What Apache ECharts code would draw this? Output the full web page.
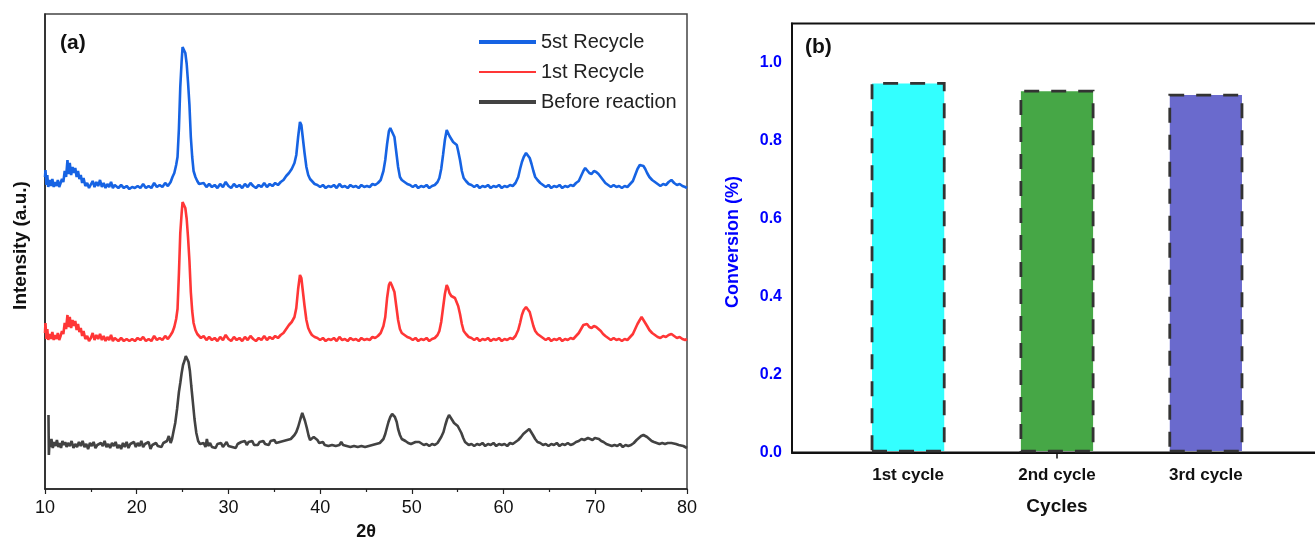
<!DOCTYPE html>
<html>
<head>
<meta charset="utf-8">
<script src="https://cdn.jsdelivr.net/npm/echarts@6/dist/echarts.min.js"></script>
<style>
html,body{margin:0;padding:0;background:#fff;}
#chart{width:1315px;height:543px;}
</style>
</head>
<body>
<div id="chart"></div>
<script>
// ---------- Panel (a): XRD patterns, [2θ, intensity (a.u., offset as plotted)] ----------
const seriesNames = ['5st Recycle', '1st Recycle', 'Before reaction'];
const xTicks = [10, 20, 30, 40, 50, 60, 70, 80];

const recycle5 = [[10.0,312],[10.05,319],[10.15,304],[10.25,314],[10.35,302],[10.5,309],[10.65,303],[10.8,310],[10.95,302],[11.1,307],[11.25,303],[11.4,309],[11.55,302],[11.7,306],[11.85,310],[12.0,307],[12.15,318],[12.3,312],[12.45,329],[12.55,315],[12.7,326],[12.85,314],[13.0,322],[13.15,316],[13.3,321],[13.45,312],[13.6,318],[13.75,310],[13.9,314],[14.05,306],[14.2,311],[14.4,303],[14.6,306],[14.8,301],[15.0,303],[15.2,308],[15.4,302],[15.6,307],[15.8,303],[16.0,309],[16.2,302],[16.4,306],[16.6,301],[16.8,305],[17.0,302],[17.2,307],[17.4,301],[17.6,304],[17.8,302],[18.0,301],[18.3,304],[18.6,301],[18.9,303],[19.2,300],[19.5,302],[19.8,301],[20.1,303],[20.4,301],[20.7,305],[21.0,301],[21.3,303],[21.6,301],[21.9,306],[22.2,302],[22.5,304],[22.8,302],[23.1,306],[23.4,303],[23.7,307],[23.9,312],[24.1,316],[24.3,324],[24.45,332],[24.6,360],[24.75,402],[24.9,428],[25.0,442],[25.15,440],[25.3,436],[25.45,425],[25.6,406],[25.75,384],[25.9,352],[26.05,332],[26.2,318],[26.4,312],[26.6,308],[26.8,305],[27.0,303],[27.3,306],[27.6,302],[27.9,305],[28.2,302],[28.5,304],[28.8,301],[29.1,305],[29.4,302],[29.7,307],[30.0,303],[30.3,301],[30.6,305],[30.9,302],[31.2,304],[31.5,301],[31.8,305],[32.1,302],[32.4,306],[32.7,303],[33.0,301],[33.3,304],[33.6,302],[33.9,306],[34.2,302],[34.5,305],[34.8,303],[35.1,306],[35.4,304],[35.7,307],[36.0,309],[36.3,313],[36.6,316],[36.9,320],[37.2,326],[37.4,334],[37.6,352],[37.8,367],[37.95,364],[38.1,352],[38.3,336],[38.5,322],[38.7,314],[38.9,310],[39.1,308],[39.4,305],[39.7,304],[40.0,302],[40.3,304],[40.6,301],[40.9,303],[41.2,302],[41.5,304],[41.8,301],[42.1,305],[42.4,302],[42.7,303],[43.0,301],[43.3,304],[43.6,302],[43.9,303],[44.2,301],[44.5,304],[44.8,302],[45.1,303],[45.4,302],[45.7,305],[46.0,304],[46.3,306],[46.6,309],[46.9,318],[47.1,329],[47.3,345],[47.5,358],[47.65,361],[47.8,358],[47.95,360],[48.1,352],[48.3,337],[48.5,322],[48.7,312],[48.9,309],[49.2,307],[49.5,305],[49.8,304],[50.1,302],[50.4,304],[50.7,301],[51.0,303],[51.3,302],[51.6,304],[51.9,301],[52.2,303],[52.5,304],[52.8,307],[53.0,311],[53.2,320],[53.4,334],[53.6,349],[53.8,359],[53.95,356],[54.1,353],[54.3,350],[54.5,347],[54.7,346],[54.9,344],[55.05,338],[55.25,329],[55.45,318],[55.65,311],[55.9,308],[56.2,305],[56.5,304],[56.8,302],[57.1,304],[57.4,301],[57.7,303],[58.0,302],[58.3,304],[58.6,301],[58.9,303],[59.2,302],[59.5,304],[59.8,301],[60.1,303],[60.4,302],[60.7,304],[61.0,303],[61.3,306],[61.6,312],[61.8,320],[62.0,327],[62.2,332],[62.45,336],[62.65,334],[62.85,331],[63.05,325],[63.25,318],[63.45,312],[63.7,309],[64.0,306],[64.3,304],[64.6,302],[64.9,304],[65.2,301],[65.5,303],[65.8,302],[66.1,304],[66.4,301],[66.7,303],[67.0,302],[67.3,304],[67.6,303],[67.9,306],[68.2,308],[68.45,313],[68.7,318],[68.9,321],[69.1,319],[69.35,316],[69.6,315],[69.85,318],[70.1,317],[70.35,315],[70.6,312],[70.85,309],[71.1,306],[71.4,304],[71.7,302],[72.0,304],[72.3,302],[72.6,303],[72.9,301],[73.2,303],[73.5,302],[73.8,305],[74.1,308],[74.35,314],[74.6,320],[74.85,324],[75.05,326],[75.25,323],[75.45,320],[75.65,316],[75.9,312],[76.2,309],[76.5,307],[76.8,305],[77.1,303],[77.4,305],[77.7,304],[78.0,307],[78.3,309],[78.6,306],[78.9,304],[79.2,305],[79.5,303],[79.8,302],[80.0,301]];

const recycle1 = [[10.0,156],[10.05,166],[10.15,150],[10.25,160],[10.35,149],[10.5,155],[10.65,150],[10.8,157],[10.95,149],[11.1,154],[11.25,150],[11.4,156],[11.55,149],[11.7,153],[11.85,158],[12.0,155],[12.15,166],[12.3,160],[12.45,174],[12.55,162],[12.7,172],[12.85,161],[13.0,169],[13.15,163],[13.3,168],[13.45,159],[13.6,165],[13.75,157],[13.9,161],[14.05,153],[14.2,158],[14.4,150],[14.6,153],[14.8,148],[15.0,151],[15.2,156],[15.4,149],[15.6,154],[15.8,150],[16.0,155],[16.2,149],[16.4,153],[16.6,148],[16.8,152],[17.0,149],[17.2,154],[17.4,148],[17.6,151],[17.8,149],[18.0,148],[18.3,151],[18.6,148],[18.9,150],[19.2,148],[19.5,150],[19.8,148],[20.1,151],[20.4,149],[20.7,152],[21.0,148],[21.3,150],[21.6,148],[21.9,153],[22.2,149],[22.5,151],[22.8,149],[23.1,153],[23.4,150],[23.7,154],[23.9,157],[24.1,162],[24.3,170],[24.45,180],[24.6,215],[24.75,256],[24.9,276],[25.0,287],[25.15,285],[25.3,281],[25.45,270],[25.6,251],[25.75,228],[25.9,197],[26.05,178],[26.2,166],[26.4,159],[26.6,155],[26.8,153],[27.0,151],[27.3,153],[27.6,149],[27.9,152],[28.2,149],[28.5,151],[28.8,148],[29.1,152],[29.4,149],[29.7,154],[30.0,150],[30.3,148],[30.6,152],[30.9,149],[31.2,151],[31.5,148],[31.8,152],[32.1,149],[32.4,153],[32.7,150],[33.0,148],[33.3,151],[33.6,149],[33.9,153],[34.2,149],[34.5,152],[34.8,150],[35.1,153],[35.4,151],[35.7,154],[36.0,156],[36.3,160],[36.6,164],[36.9,167],[37.2,172],[37.4,181],[37.6,200],[37.8,214],[37.95,211],[38.1,199],[38.3,183],[38.5,169],[38.7,161],[38.9,157],[39.1,154],[39.4,152],[39.7,151],[40.0,149],[40.3,151],[40.6,148],[40.9,150],[41.2,149],[41.5,151],[41.8,148],[42.1,152],[42.4,149],[42.7,150],[43.0,148],[43.3,151],[43.6,149],[43.9,150],[44.2,148],[44.5,151],[44.8,149],[45.1,150],[45.4,149],[45.7,152],[46.0,151],[46.3,153],[46.6,156],[46.9,163],[47.1,172],[47.3,191],[47.5,204],[47.65,207],[47.8,204],[47.95,205],[48.1,197],[48.3,183],[48.5,169],[48.7,160],[48.9,156],[49.2,154],[49.5,152],[49.8,151],[50.1,149],[50.4,151],[50.7,148],[51.0,150],[51.3,149],[51.6,151],[51.9,148],[52.2,150],[52.5,151],[52.8,154],[53.0,158],[53.2,167],[53.4,181],[53.6,195],[53.8,204],[53.95,201],[54.1,196],[54.3,193],[54.5,192],[54.7,191],[54.9,189],[55.05,183],[55.25,175],[55.45,165],[55.65,158],[55.9,155],[56.2,152],[56.5,151],[56.8,149],[57.1,151],[57.4,148],[57.7,150],[58.0,149],[58.3,151],[58.6,148],[58.9,150],[59.2,149],[59.5,151],[59.8,148],[60.1,150],[60.4,149],[60.7,151],[61.0,150],[61.3,153],[61.6,159],[61.8,166],[62.0,174],[62.2,179],[62.45,182],[62.65,180],[62.85,177],[63.05,170],[63.25,163],[63.45,158],[63.7,155],[64.0,153],[64.3,151],[64.6,149],[64.9,151],[65.2,148],[65.5,150],[65.8,149],[66.1,151],[66.4,148],[66.7,150],[67.0,149],[67.3,151],[67.6,150],[67.9,153],[68.2,156],[68.45,160],[68.7,164],[68.9,166],[69.1,165],[69.35,162],[69.6,161],[69.85,163],[70.1,162],[70.35,160],[70.6,158],[70.85,155],[71.1,153],[71.4,151],[71.7,149],[72.0,151],[72.3,149],[72.6,150],[72.9,148],[73.2,150],[73.5,149],[73.8,152],[74.1,155],[74.35,160],[74.6,165],[74.85,169],[75.05,172],[75.25,169],[75.45,167],[75.65,163],[75.9,159],[76.2,156],[76.5,154],[76.8,152],[77.1,151],[77.4,153],[77.7,152],[78.0,154],[78.3,155],[78.6,153],[78.9,151],[79.2,152],[79.5,150],[79.8,149],[80.0,150]];

const beforeReaction = [[10.38,74],[10.42,34],[10.5,48],[10.6,42],[10.7,50],[10.85,41],[11.0,47],[11.15,43],[11.3,49],[11.45,42],[11.6,46],[11.75,41],[11.9,48],[12.05,44],[12.2,47],[12.35,42],[12.5,46],[12.7,43],[12.9,48],[13.1,41],[13.3,45],[13.5,42],[13.7,47],[13.9,43],[14.1,48],[14.3,42],[14.5,45],[14.7,40],[14.9,46],[15.1,43],[15.3,47],[15.5,41],[15.7,44],[15.9,42],[16.1,46],[16.3,43],[16.5,48],[16.7,42],[16.9,45],[17.1,41],[17.3,46],[17.5,43],[17.7,47],[17.9,41],[18.1,44],[18.3,40],[18.5,46],[18.7,42],[18.9,47],[19.1,41],[19.3,45],[19.5,43],[19.7,47],[19.9,42],[20.1,46],[20.3,43],[20.5,48],[20.7,42],[20.9,45],[21.1,43],[21.3,47],[21.5,40],[21.7,44],[21.9,42],[22.1,46],[22.3,43],[22.5,45],[22.7,42],[22.9,46],[23.1,44],[23.3,48],[23.5,53],[23.7,46],[23.85,50],[24.0,57],[24.2,66],[24.4,80],[24.6,97],[24.75,106],[24.9,116],[25.05,124],[25.2,128],[25.35,133],[25.5,134],[25.65,127],[25.8,118],[25.95,103],[26.1,89],[26.3,70],[26.5,56],[26.7,48],[26.9,45],[27.1,43],[27.3,46],[27.5,42],[27.65,50],[27.8,43],[28.0,46],[28.2,42],[28.4,44],[28.6,41],[28.8,45],[29.0,43],[29.2,46],[29.4,42],[29.6,44],[29.8,47],[30.0,43],[30.2,45],[30.4,42],[30.6,44],[30.8,41],[31.0,45],[31.2,43],[31.4,47],[31.6,45],[31.8,48],[32.0,44],[32.2,47],[32.4,45],[32.6,48],[32.8,44],[33.0,46],[33.2,44],[33.4,47],[33.6,45],[33.8,48],[34.0,45],[34.2,47],[34.4,44],[34.6,48],[34.8,46],[35.0,49],[35.2,46],[35.4,48],[35.6,47],[35.8,49],[36.0,48],[36.2,50],[36.4,49],[36.6,51],[36.8,50],[37.0,52],[37.2,54],[37.4,57],[37.6,62],[37.85,70],[38.05,76],[38.2,74],[38.35,68],[38.55,61],[38.75,53],[38.9,49],[39.1,50],[39.3,52],[39.5,53],[39.7,49],[39.9,46],[40.1,45],[40.3,47],[40.5,44],[40.7,46],[40.9,43],[41.1,45],[41.3,44],[41.5,46],[41.7,43],[41.9,45],[42.1,44],[42.3,47],[42.5,44],[42.7,46],[42.9,43],[43.1,45],[43.3,42],[43.5,44],[43.7,43],[43.9,45],[44.1,42],[44.3,44],[44.5,43],[44.7,45],[44.9,42],[45.1,44],[45.3,43],[45.5,45],[45.7,44],[45.9,46],[46.1,45],[46.3,47],[46.5,46],[46.7,48],[46.9,50],[47.1,55],[47.3,62],[47.45,67],[47.65,72],[47.85,75],[48.0,76],[48.15,72],[48.35,67],[48.5,60],[48.7,54],[48.9,50],[49.1,49],[49.3,48],[49.6,46],[49.9,45],[50.15,46],[50.4,47],[50.6,49],[50.8,47],[51.0,45],[51.3,44],[51.6,45],[51.9,43],[52.2,45],[52.5,44],[52.8,46],[53.0,48],[53.2,52],[53.45,57],[53.65,64],[53.85,70],[54.05,74],[54.2,73],[54.4,69],[54.6,66],[54.8,64],[55.0,63],[55.2,61],[55.4,56],[55.6,51],[55.8,47],[56.0,45],[56.2,44],[56.5,45],[56.8,43],[57.1,45],[57.4,44],[57.7,46],[58.0,43],[58.3,45],[58.6,44],[58.9,46],[59.2,43],[59.5,45],[59.8,44],[60.1,45],[60.4,43],[60.7,46],[61.0,45],[61.3,47],[61.6,49],[61.9,52],[62.15,55],[62.4,57],[62.6,59],[62.8,60],[63.0,57],[63.2,54],[63.45,50],[63.7,47],[64.0,46],[64.3,44],[64.6,45],[64.9,43],[65.2,45],[65.5,44],[65.8,46],[66.1,43],[66.4,45],[66.7,44],[67.0,46],[67.3,44],[67.6,45],[67.9,47],[68.2,48],[68.5,50],[68.8,49],[69.0,51],[69.2,51],[69.45,50],[69.7,49],[69.95,51],[70.15,51],[70.4,50],[70.65,48],[70.9,47],[71.2,45],[71.5,44],[71.8,43],[72.1,44],[72.4,43],[72.7,45],[73.0,42],[73.3,44],[73.6,43],[73.9,44],[74.2,46],[74.5,49],[74.75,51],[75.0,53],[75.25,54],[75.45,54],[75.65,52],[75.9,50],[76.15,48],[76.4,47],[76.7,46],[77.0,45],[77.3,46],[77.6,45],[77.9,46],[78.1,45],[78.3,46],[78.5,47],[78.8,45],[79.1,44],[79.3,43],[79.6,43],[79.8,42],[80.0,41]];

// ---------- Panel (b): conversion per cycle ----------
const cycleLabels = ['1st cycle', '2nd cycle', '3rd cycle'];
const cyclePositions = [1, 2, 3];
const conversion = [0.95, 0.93, 0.92];
const conversionTicks = [0, 0.2, 0.4, 0.6, 0.8, 1.0];

const chart = echarts.init(document.getElementById('chart'), null, {renderer: 'canvas'});
const lineColors = ['#1663e3', '#ff3636', '#424242'];
const legendLineWidths = [4, 2.2, 4];
const barColors = ['#33ffff', '#46a746', '#6a6acd'];
const xrdData = [recycle5, recycle1, beforeReaction];
const FONT = 'Arial, "Liberation Sans", sans-serif';

const option = {
  animation: false,
  backgroundColor: '#ffffff',
  title: [
    {text: '(a)', left: 60, top: 33, padding: 0, textStyle: {fontFamily: FONT, fontWeight: 'bold', fontSize: 21, color: '#111'}},
    {text: '(b)', left: 805, top: 37, padding: 0, textStyle: {fontFamily: FONT, fontWeight: 'bold', fontSize: 21, color: '#111'}}
  ],
  legend: {
    data: seriesNames.map((n, i) => ({name: n, lineStyle: {width: legendLineWidths[i]}})),
    orient: 'vertical',
    left: 477,
    top: 32,
    padding: 0,
    itemWidth: 57,
    itemHeight: 14,
    itemGap: 10,
    itemStyle: {opacity: 0},
    textStyle: {fontFamily: FONT, fontSize: 20, color: '#222'}
  },
  grid: [
    {left: 45, top: 14, width: 642, height: 475, outerBoundsMode: 'none', containLabel: false, show: true, borderColor: '#444', borderWidth: 1.5, backgroundColor: 'transparent'},
    {left: 792, top: 23.5, width: 530, height: 429, outerBoundsMode: 'none', containLabel: false, show: true, borderColor: '#111', borderWidth: 2, backgroundColor: 'transparent'}
  ],
  xAxis: [
    {
      gridIndex: 0, type: 'value', min: 10, max: 80, interval: 10,
      axisLine: {show: true, lineStyle: {color: '#222', width: 1.5}},
      axisTick: {show: true, inside: false, length: 5, lineStyle: {color: '#222', width: 1.2}},
      minorTick: {show: true, splitNumber: 2, length: 3, lineStyle: {color: '#222', width: 1.2}},
      splitLine: {show: false},
      axisLabel: {
        customValues: xTicks,
        margin: 10, fontFamily: FONT, fontSize: 18, color: '#111'
      },
      name: '2θ', nameLocation: 'middle', nameGap: 34,
      nameTextStyle: {fontFamily: FONT, fontWeight: 'bold', fontSize: 18, color: '#111'}
    },
    {
      gridIndex: 1, type: 'value', min: 0.22, max: 3.78,
      axisLine: {show: true, onZero: false, lineStyle: {color: '#111', width: 2}},
      axisTick: {show: true, customValues: [2], length: 6, lineStyle: {color: '#111', width: 1.5}},
      splitLine: {show: false},
      axisLabel: {
        customValues: cyclePositions,
        formatter: v => cycleLabels[cyclePositions.indexOf(Math.round(v))] || '',
        margin: 14, fontFamily: FONT, fontWeight: 'bold', fontSize: 17, color: '#111'
      },
      name: 'Cycles', nameLocation: 'middle', nameGap: 45,
      nameTextStyle: {fontFamily: FONT, fontWeight: 'bold', fontSize: 19, color: '#111'}
    }
  ],
  yAxis: [
    {
      gridIndex: 0, type: 'value', min: 0, max: 475,
      axisLine: {show: true, lineStyle: {color: '#222', width: 1.5}},
      axisTick: {show: false}, axisLabel: {show: false}, splitLine: {show: false},
      name: 'Intensity (a.u.)', nameLocation: 'middle', nameGap: 15, nameRotate: 90,
      nameTextStyle: {fontFamily: FONT, fontWeight: 'bold', fontSize: 19, color: '#111', padding: [0, 0, 0, 12]}
    },
    {
      gridIndex: 1, type: 'value', min: 0, max: 1.1, interval: 0.2,
      axisLine: {show: true, onZero: false, lineStyle: {color: '#111', width: 2}},
      axisTick: {show: false}, splitLine: {show: false},
      axisLabel: {
        customValues: conversionTicks,
        formatter: v => v.toFixed(1),
        margin: 10, fontFamily: FONT, fontWeight: 'bold', fontSize: 16, color: '#0000ff'
      },
      name: 'Conversion (%)', nameLocation: 'middle', nameGap: 50, nameRotate: 90,
      nameTextStyle: {fontFamily: FONT, fontWeight: 'bold', fontSize: 18, color: '#0000ff', padding: [0, 8, 0, 0]}
    }
  ],
  series: seriesNames.map((name, i) => ({
    name: name, type: 'line', xAxisIndex: 0, yAxisIndex: 0,
    data: xrdData[i], symbol: 'none', showSymbol: false, smooth: false,
    lineStyle: {color: lineColors[i], width: 2.6}, itemStyle: {color: lineColors[i]}
  })).concat([{
    name: 'Conversion', type: 'bar', xAxisIndex: 1, yAxisIndex: 1,
    barWidth: 75,
    data: cyclePositions.map((x, i) => ({
      value: [x, conversion[i]],
      itemStyle: {color: barColors[i]}
    })),
    itemStyle: {borderColor: '#333', borderWidth: 2.8, borderType: [15, 12]}
  }])
};
chart.setOption(option);
</script>
</body>
</html>
